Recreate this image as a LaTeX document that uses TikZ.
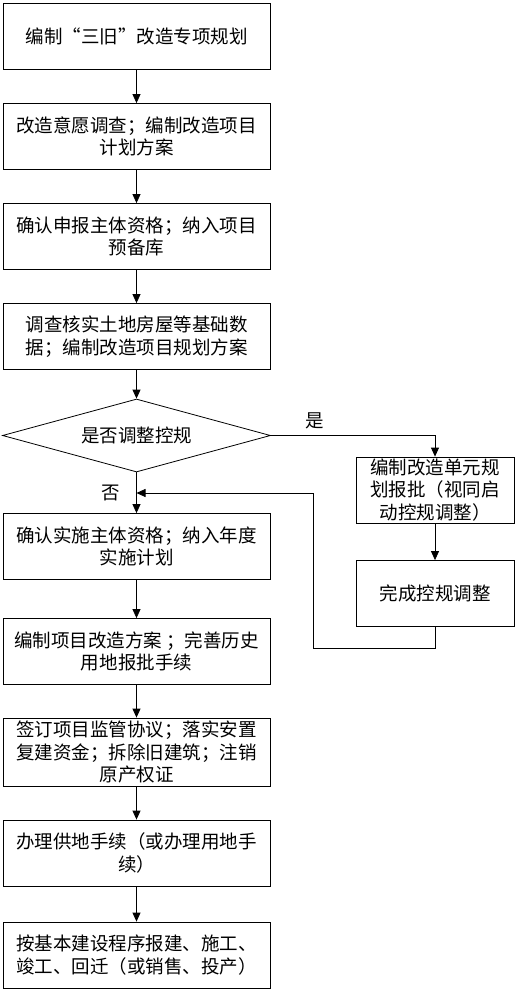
\documentclass[tikz,border=0pt]{standalone}
\usepackage{fontspec}
\setmainfont{Noto Sans CJK SC}
\usetikzlibrary{shapes.geometric,arrows.meta}
\begin{document}
\begin{tikzpicture}[x=1pt,y=-1pt,
  every node/.style={font=\fontsize{18.5}{22.5}\selectfont},
  mainbox/.style={draw,line width=0.8pt,minimum width=267pt,minimum height=66pt,inner sep=0pt,align=center},
  sidebox/.style={draw,line width=0.8pt,minimum width=158pt,minimum height=66pt,inner sep=0pt,align=center},
  decision/.style={draw,line width=0.8pt,diamond,aspect=3.67,minimum width=268pt,minimum height=73pt,inner sep=0pt},
  arr/.style={line width=0.8pt,-{Triangle[length=9pt,width=8pt]}},
  ln/.style={line width=0.8pt}]
\useasboundingbox (0,0) rectangle (519,992);
\node[mainbox] (b1) at (136.5,36) {编制“三旧”改造专项规划};
\node[mainbox] (b2) at (136.5,136.5) {改造意愿调查；编制改造项目\\计划方案};
\node[mainbox] (b3) at (136.5,236.5) {确认申报主体资格；纳入项目\\预备库};
\node[mainbox] (b4) at (136.5,336.5) {调查核实土地房屋等基础数\\据；编制改造项目规划方案};
\node[decision] (d) at (136.5,435.5) {是否调整控规};
\node[sidebox] (b5) at (435,490) {编制改造单元规\\划报批（视同启\\动控规调整）};
\node[sidebox] (b6) at (435,593.5) {完成控规调整};
\node[mainbox] (b7) at (136.5,546.5) {确认实施主体资格；纳入年度\\实施计划};
\node[mainbox] (b8) at (136.5,651.5) {编制项目改造方案 ；完善历史\\用地报批手续};
\node[mainbox,minimum height=68pt] (b9) at (136.5,752) {签订项目监管协议；落实安置\\复建资金；拆除旧建筑；注销\\原产权证};
\node[mainbox] (b10) at (136.5,853) {办理供地手续（或办理用地手\\续）};
\node[mainbox] (b11) at (136.5,955) {按基本建设程序报建、施工、\\竣工、回迁（或销售、投产）};
\node (yes) at (315,421) {是};
\node (no) at (111,493) {否};
\coordinate (j) at (136.5,493);
\coordinate (c1) at (435,648);
\coordinate (c2) at (313,648);
\coordinate (c3) at (313,493);
\draw[arr] (b1) -- (b2);
\draw[arr] (b2) -- (b3);
\draw[arr] (b3) -- (b4);
\draw[arr] (b4) -- (d);
\draw[arr] (d) -- (b7);
\draw[arr] (d.east) -| (b5.north);
\draw[arr] (b5) -- (b6);
\draw[arr] (b6.south) -- (c1) -- (c2) -- (c3) -- (j);
\draw[arr] (b7) -- (b8);
\draw[arr] (b8) -- (b9);
\draw[arr] (b9) -- (b10);
\draw[arr] (b10) -- (b11);
\end{tikzpicture}
\end{document}
